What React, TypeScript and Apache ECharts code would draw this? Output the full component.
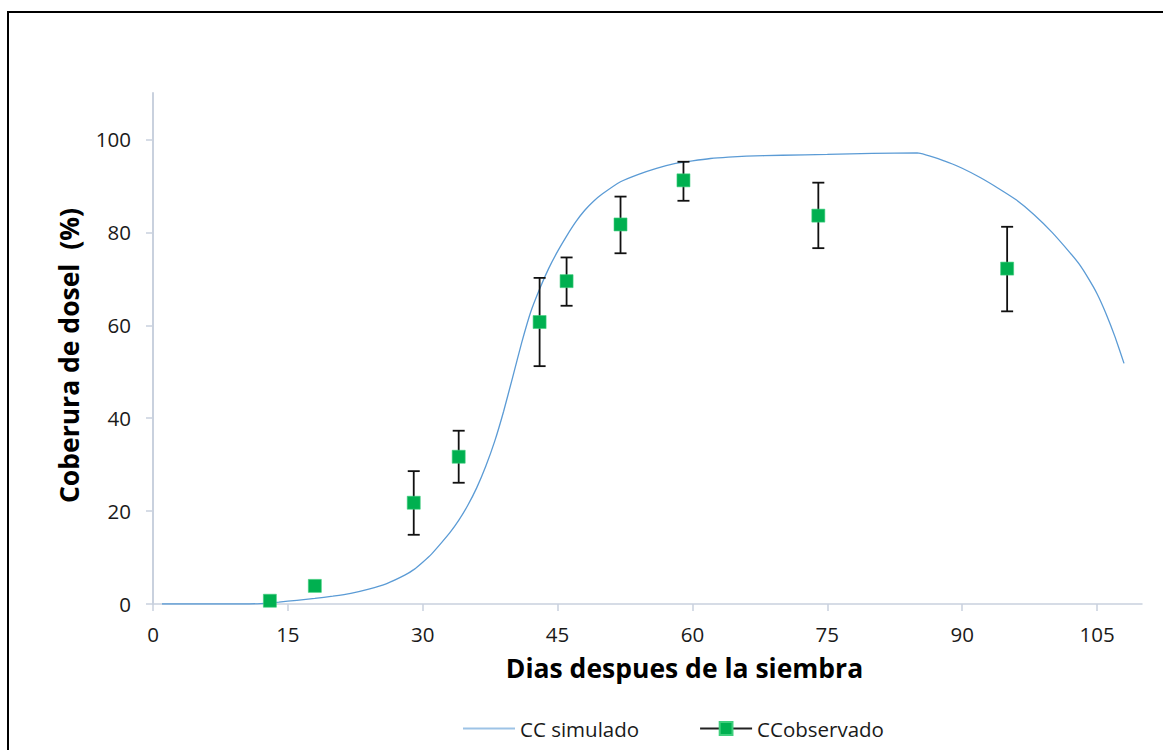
import React, { useEffect, useRef } from "react";
import * as echarts from "echarts";

// Simulated canopy cover
const simX = [1, 5, 10, 12, 14, 16, 18, 20, 22, 24, 26, 28, 29, 30, 31, 32, 33, 34, 35, 36, 37, 38, 39, 40, 41, 42, 43, 44, 45, 46, 47, 48, 49, 50, 52, 54, 56, 58, 60, 62, 64, 66, 70, 75, 80, 85, 88, 90, 92, 94, 96, 98, 100, 102, 103, 104, 105, 106, 107, 108];
const simY = [0, 0, 0, 0.1, 0.4, 0.8, 1.2, 1.7, 2.3, 3.2, 4.4, 6.2, 7.4, 9.0, 10.8, 13.0, 15.3, 18.0, 21.2, 25.0, 29.6, 35.0, 41.5, 48.8, 56.2, 62.8, 67.8, 72.2, 75.9, 79.2, 82.2, 84.7, 86.7, 88.3, 90.9, 92.5, 93.8, 94.8, 95.4, 95.9, 96.2, 96.4, 96.6, 96.8, 97.0, 97.1, 95.4, 93.8, 91.8, 89.5, 87.0, 83.8, 80.0, 75.6, 73.2, 70.2, 66.8, 62.5, 57.5, 51.8];

// Observed canopy cover with error bars
const obsX = [13, 18, 29, 34, 43, 46, 52, 59, 74, 95];
const obsY = [0.7, 3.9, 21.8, 31.7, 60.7, 69.5, 81.7, 91.2, 83.6, 72.2];
const errLow = [0.7, 3.9, 14.9, 26.1, 51.2, 64.2, 75.5, 86.8, 76.6, 63.0];
const errHigh = [0.7, 3.9, 28.6, 37.3, 70.2, 74.6, 87.7, 95.2, 90.7, 81.2];

const xTicks = [0, 15, 30, 45, 60, 75, 90, 105];
const yTicks = [0, 20, 40, 60, 80, 100];

const FONT = "'Open Sans', 'Noto Sans', sans-serif";
const AXIS_COLOR = "#c9d1de";

export default function App() {
  const ref = useRef<HTMLDivElement>(null);

  useEffect(() => {
    if (!ref.current) return;
    const chart = echarts.init(ref.current, undefined, { renderer: "svg" });

    const simData = simX.map((x, i) => [x, simY[i]]);
    const obsData = obsX.map((x, i) => [x, obsY[i]]);
    const errData = obsX.map((x, i) => [x, errLow[i], errHigh[i]]);

    chart.setOption({
      animation: false,
      backgroundColor: "#ffffff",
      textStyle: { fontFamily: FONT },
      grid: { left: 153, right: 21, top: 93, bottom: 146, containLabel: false },
      xAxis: {
        type: "value",
        min: 0,
        max: 110,
        interval: 15,
        name: "Dias despues de la siembra",
        nameLocation: "middle",
        nameGap: 50,
        nameTextStyle: { fontFamily: FONT, fontSize: 26.5, fontWeight: "bold", color: "#000", padding: [0, 0, 0, 74] },
        axisLine: { show: true, lineStyle: { color: AXIS_COLOR, width: 1.5 } },
        axisTick: { show: true, length: 7, customValues: xTicks, lineStyle: { color: AXIS_COLOR, width: 1.5 } },
        axisLabel: { customValues: xTicks, fontFamily: FONT, fontSize: 20.5, color: "#1a1a1a", margin: 19 },
        splitLine: { show: false },
      },
      yAxis: {
        type: "value",
        min: 0,
        max: 110,
        interval: 20,
        name: "Coberura de dosel  (%)",
        nameLocation: "middle",
        nameGap: 71,
        nameTextStyle: { fontFamily: FONT, fontSize: 26.5, fontWeight: "bold", color: "#000", padding: [0, 14, 0, 0] },
        axisLine: { show: true, lineStyle: { color: AXIS_COLOR, width: 2 } },
        axisTick: { show: true, length: 7, customValues: yTicks, lineStyle: { color: AXIS_COLOR, width: 1.5 } },
        axisLabel: { customValues: yTicks, fontFamily: FONT, fontSize: 20.5, color: "#1a1a1a", margin: 22 },
        splitLine: { show: false },
      },
      legend: {
        left: 457,
        top: 713,
        itemWidth: 52,
        itemHeight: 16,
        itemGap: 60,
        textStyle: { fontFamily: FONT, fontSize: 20.5, color: "#1a1a1a" },
        data: [
          { name: "CC simulado", itemStyle: { opacity: 0 }, lineStyle: { color: "#9dc3e6", width: 2 } },
          { name: "CCobservado", lineStyle: { color: "#222", width: 2, opacity: 1 } },
        ],
      },
      series: [
        {
          name: "CC simulado",
          type: "line",
          data: simData,
          showSymbol: false,
          symbol: "none",
          smooth: 0.15,
          lineStyle: { color: "#5b9bd5", width: 1.3 },
          itemStyle: { color: "#5b9bd5" },
          z: 2,
        },
        {
          name: "errbars",
          type: "custom",
          data: errData,
          encode: { x: 0, y: [1, 2] },
          renderItem: (params: any, api: any) => {
            const x = api.value(0);
            const lo = api.value(1);
            const hi = api.value(2);
            if (lo === hi) return null;
            const pLo = api.coord([x, lo]);
            const pHi = api.coord([x, hi]);
            const w = 6;
            const st = { stroke: "#111", lineWidth: 1.8 };
            return {
              type: "group",
              children: [
                { type: "line", shape: { x1: pLo[0], y1: pLo[1], x2: pHi[0], y2: pHi[1] }, style: st },
                { type: "line", shape: { x1: pLo[0] - w, y1: pLo[1], x2: pLo[0] + w, y2: pLo[1] }, style: st },
                { type: "line", shape: { x1: pHi[0] - w, y1: pHi[1], x2: pHi[0] + w, y2: pHi[1] }, style: st },
              ],
            };
          },
          z: 3,
        },
        {
          name: "CCobservado",
          type: "line",
          data: obsData,
          symbol: "rect",
          symbolSize: 13,
          showAllSymbol: true,
          lineStyle: { opacity: 0, color: "#222", width: 2 },
          itemStyle: { color: "#00b050", borderColor: "#3fcf7d", borderWidth: 0.6 },
          z: 4,
        },
      ],
    });

    return () => chart.dispose();
  }, []);

  return (
    <div style={{ position: "absolute", left: 0, top: 0, width: 1163, height: 750, overflow: "hidden", background: "#fff" }}>
      <div ref={ref} style={{ position: "absolute", left: 0, top: 0, width: 1163, height: 750 }} />
      <div
        style={{
          position: "absolute",
          left: 7,
          top: 11,
          width: 1170,
          height: 800,
          borderLeft: "2.5px solid #000",
          borderTop: "2.5px solid #000",
          pointerEvents: "none",
          boxSizing: "border-box",
        }}
      />
    </div>
  );
}
